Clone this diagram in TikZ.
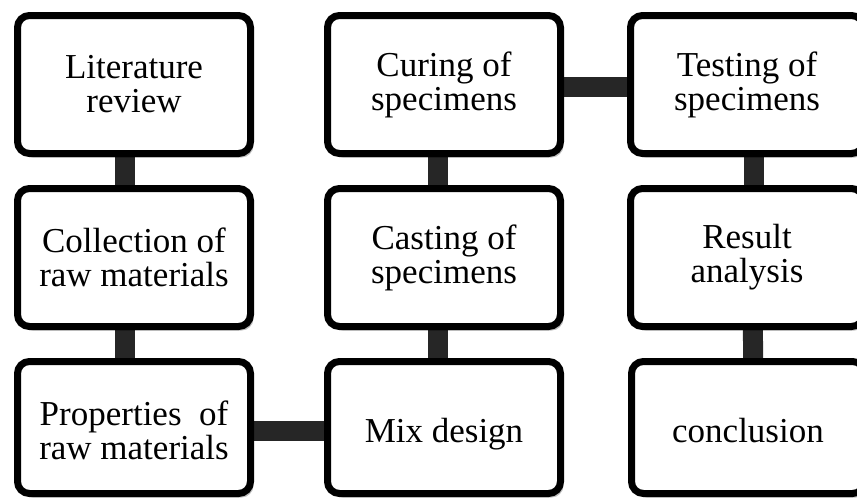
\documentclass[tikz,border=0pt]{standalone}
\usepackage{fontspec}
\setmainfont{Liberation Serif}
\usetikzlibrary{shadows}
\pgfdeclarelayer{background}
\pgfsetlayers{background,main}
\definecolor{connc}{HTML}{262626}
\newcommand{\onelinestrut}{\rule[-10pt]{0pt}{50pt}}
\tikzset{
  box/.style={draw=black, line width=7pt, rounded corners=12pt, fill=white,
    align=center, inner sep=0pt, minimum width=233pt, minimum height=138pt,
    font=\fontsize{35}{34}\selectfont,
    drop shadow={shadow xshift=3pt, shadow yshift=-4pt, opacity=0.25, fill=black}},
  lowbox/.style={box, minimum height=132pt},
  conn/.style={draw=connc, line width=20pt}
}
\begin{document}
\begin{tikzpicture}[x=1pt,y=-1pt]
\useasboundingbox (0,0) rectangle (857,499);
\node[box] (lit) at (134,84.5) {Literature\\review};
\node[box] (col) at (134,257.5) {Collection of\\raw materials};
\node[lowbox] (prop) at (134,427.5) {\rule{0pt}{30pt}Properties~~of\\raw materials};
\node[box] (cur) at (444,84.5) {Curing of\\specimens};
\node[box] (cast) at (444,257.5) {Casting of\\specimens};
\node[lowbox] (mix) at (444,427.5) {\onelinestrut Mix design};
\node[box] (test) at (747,84.5) {Testing of\\specimens};
\node[box] (res) at (747,257.5) {Result\\analysis};
\node[lowbox] (conc) at (748,427.5) {\onelinestrut conclusion};
\begin{pgfonlayer}{background}
\draw[conn] ([xshift=-9pt]lit.center) -- ([xshift=-9pt]col.center);
\draw[conn] ([xshift=-9pt]col.center) -- ([xshift=-9pt]prop.center);
\draw[conn] ([yshift=-3pt]prop.center) -- ([yshift=-3pt]mix.center);
\draw[conn] ([xshift=-6pt]mix.center) -- ([xshift=-6pt]cast.center);
\draw[conn] ([xshift=-6pt]cast.center) -- ([xshift=-6pt]cur.center);
\draw[conn] ([yshift=-2pt]cur.center) -- ([yshift=-2pt]test.center);
\draw[conn] ([xshift=6.5pt]test.center) -- ([xshift=6.5pt]res.center);
\draw[conn] ([xshift=5.5pt]res.center) -- ([xshift=5.5pt]conc.center);
\end{pgfonlayer}
\end{tikzpicture}
\end{document}
